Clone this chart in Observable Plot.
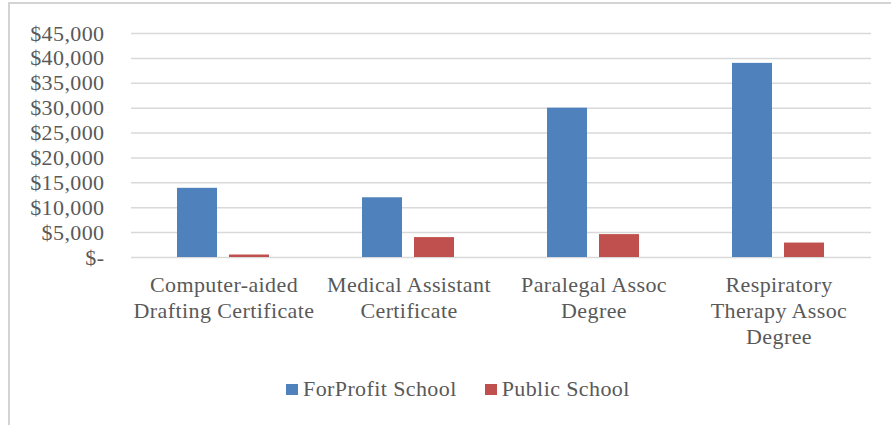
<!DOCTYPE html>
<html><head><meta charset="utf-8">
<script src="https://cdn.jsdelivr.net/npm/d3@7"></script>
<script src="https://cdn.jsdelivr.net/npm/@observablehq/plot@0.6"></script>
<style>
html,body{margin:0;padding:0;background:#fff;overflow:hidden;width:891px;height:425px;}
#frame{position:absolute;left:8px;top:2px;width:1000px;height:1000px;border-left:2px solid #d4d4d4;border-top:2px solid #d4d4d4;}
#chart{position:absolute;left:0;top:0;}
#legend{position:absolute;left:286px;top:376px;font-family:"Liberation Serif",serif;font-size:22px;letter-spacing:0.4px;color:#595959;display:flex;align-items:center;white-space:nowrap;}
#legend .sw{display:inline-block;width:12px;height:11px;margin-right:5px;}
#legend .item{display:flex;align-items:center;margin-right:28px;}
</style>
</head><body>
<div id="frame"></div>
<div id="chart"></div>
<div id="legend"></div>
<script>
const categories = ["Computer-aided Drafting Certificate","Medical Assistant Certificate","Paralegal Assoc Degree","Respiratory Therapy Assoc Degree"];
const categoryLabels = ["Computer-aided\nDrafting Certificate","Medical Assistant\nCertificate","Paralegal Assoc\nDegree","Respiratory\nTherapy Assoc\nDegree"];
const series = ["ForProfit School","Public School"];
const forProfit = [13900, 12000, 30000, 39000];
const publicSchool = [500, 4000, 4600, 2900];
const colors = ["#4f81bd","#c0504d"];
const yTicks = [0,5000,10000,15000,20000,25000,30000,35000,40000,45000];

const rows = [];
categories.forEach((c,i)=>{
  rows.push({category:c, series:series[0], value:forProfit[i]});
  rows.push({category:c, series:series[1], value:publicSchool[i]});
});
const fmt = d => d === 0 ? "$-" : "$" + d3.format(",")(d);

const chart = Plot.plot({
  width: 891, height: 365,
  marginLeft: 130, marginRight: 19, marginTop: 33, marginBottom: 108,
  style: {fontFamily: "Liberation Serif, serif", fontSize: "22px", letterSpacing: "0.4px", color: "#595959", background: "transparent"},
  fx: {domain: categories, padding: 0, label: null},
  x: {domain: series, paddingInner: 0.2264, paddingOuter: 0.863, axis: null},
  y: {domain: [0,45000], label: null},
  color: {domain: series, range: colors},
  marks: [
    Plot.ruleY(yTicks, {stroke: "#d9d9d9", strokeWidth: 1.5}),
    Plot.barY(rows, {fx: "category", x: "series", y: "value", fill: "series"}),
    Plot.axisY({ticks: yTicks, tickSize: 0, tickPadding: 27, tickFormat: fmt, label: null}),
    Plot.axisFx({anchor: "bottom", tickSize: 0, tickPadding: 16, lineHeight: 1.18, label: null,
      tickFormat: d => categoryLabels[categories.indexOf(d)]})
  ]
});
document.getElementById("chart").appendChild(chart);

const legend = document.getElementById("legend");
series.forEach((s,i)=>{
  const item = document.createElement("div");
  item.className = "item";
  const sw = document.createElement("span");
  sw.className = "sw"; sw.style.background = colors[i];
  const t = document.createElement("span");
  t.textContent = s;
  item.appendChild(sw); item.appendChild(t);
  legend.appendChild(item);
});
</script>
</body></html>
